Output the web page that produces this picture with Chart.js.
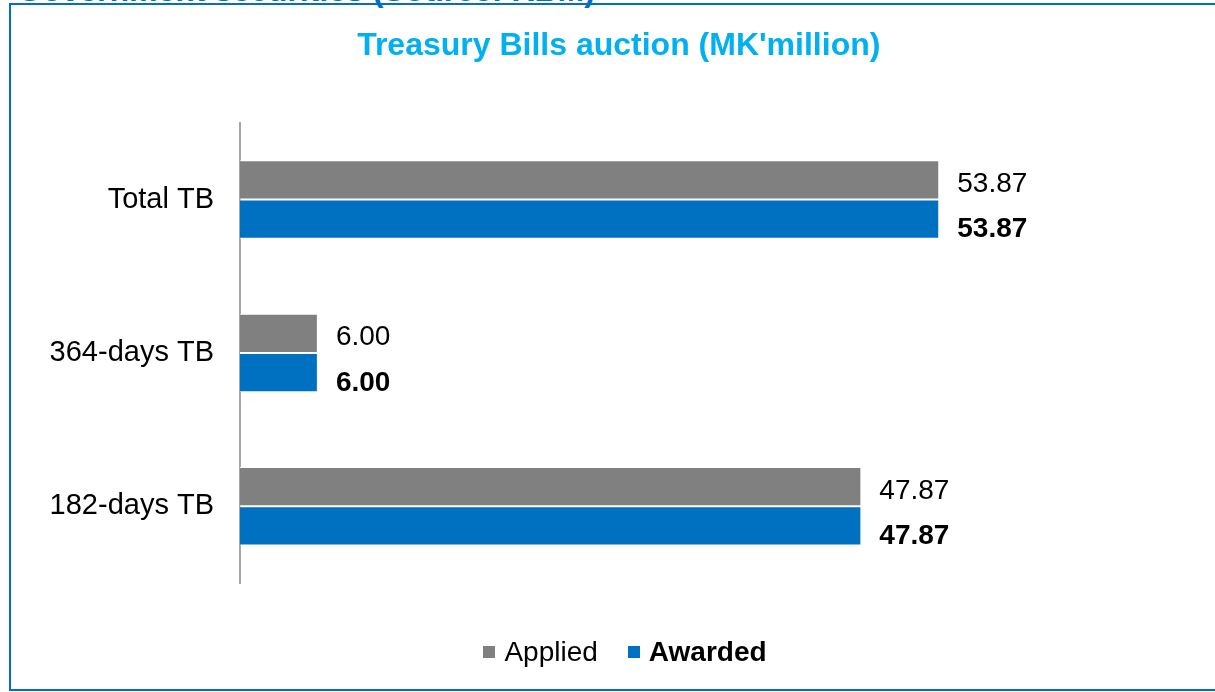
<!DOCTYPE html>
<html lang="en">
<head>
    <meta charset="UTF-8">
    <title>Treasury Bills auction</title>
    <script src="https://cdn.jsdelivr.net/npm/chart.js"></script>
    <style>
        body { margin: 0; background: #fff; overflow: hidden; width: 1215px; height: 692px; position: relative;
               font-family: 'Liberation Sans', Arial, sans-serif; }
        #heading { position: absolute; left: 17px; top: -26px; font-size: 32px; line-height: 32px;
                   font-weight: bold; color: #0070C0; white-space: nowrap; }
        #frame { position: absolute; left: 9px; top: 3px; width: 1222px; height: 688px;
                 box-sizing: border-box; border: 2px solid #0070C0; }
        #chart_tb { position: absolute; left: 0; top: 0; }
        #legend { position: absolute; left: 0; right: 0; top: 631px; display: flex; justify-content: center;
                  align-items: center; padding-left: 10px; font-size: 28px; line-height: 32px; color: #000; }
        #legend .item { display: flex; align-items: center; margin: 0 15px; }
        #legend .box { width: 12px; height: 12px; margin-right: 9px; }
    </style>
</head>
<body>
    <div id="heading">Government securities (Source: RBM)</div>
    <div id="frame">
        <canvas id="chart_tb" width="1218" height="684"></canvas>
        <div id="legend"></div>
    </div>

    <script>
        // auction data, MK'million
        const categories = ['Total TB', '364-days TB', '182-days TB'];
        const applied = [53.87, 6.00, 47.87];
        const awarded = [53.87, 6.00, 47.87];
        const seriesNames = ['Applied', 'Awarded'];
        const seriesColors = ['#808080', '#0070C0'];

        Chart.defaults.font.family = "'Liberation Sans', Arial, sans-serif";

        // value labels to the right of each bar, bold for awarded
        const barValues = {
            id: 'barValues',
            afterDatasetsDraw(chart) {
                const ctx = chart.ctx;
                ctx.save();
                ctx.fillStyle = '#000';
                ctx.textAlign = 'left';
                ctx.textBaseline = 'alphabetic';
                chart.data.datasets.forEach((ds, i) => {
                    ctx.font = (i === 1 ? 'bold ' : '') + "28px 'Liberation Sans', Arial, sans-serif";
                    chart.getDatasetMeta(i).data.forEach((bar, j) => {
                        const dy = i === 1 ? 18 : 12;
                        ctx.fillText(ds.data[j].toFixed(2), bar.x + 18, bar.y + dy);
                    });
                });
                ctx.restore();
            }
        };

        const ctx = document.getElementById('chart_tb').getContext('2d');
        const chart = new Chart(ctx, {
            type: 'bar',
            data: {
                labels: categories,
                datasets: [
                    {
                        label: seriesNames[0],
                        data: applied,
                        backgroundColor: seriesColors[0],
                        borderColor: '#fff',
                        borderWidth: 1,
                        barPercentage: 1,
                        categoryPercentage: 0.512
                    },
                    {
                        label: seriesNames[1],
                        data: awarded,
                        backgroundColor: seriesColors[1],
                        borderColor: '#fff',
                        borderWidth: 1,
                        barPercentage: 1,
                        categoryPercentage: 0.512
                    }
                ]
            },
            options: {
                indexAxis: 'y',
                responsive: false,
                animation: false,
                layout: { padding: { left: 0, right: 2.5, top: 0, bottom: 106 } },
                scales: {
                    x: { display: false, min: 0, max: 76 },
                    y: {
                        grid: { display: false, drawTicks: false },
                        border: { display: true, color: '#a6a6a6', width: 2 },
                        ticks: { color: '#000', padding: 26, font: { size: 29 } },
                        afterFit: (scale) => { scale.width = 229; }
                    }
                },
                plugins: {
                    legend: { display: false },
                    tooltip: { enabled: false },
                    title: {
                        display: true,
                        text: "Treasury Bills auction (MK'million)",
                        color: '#00B0F0',
                        font: { size: 32, weight: 'bold' },
                        padding: { top: 22, bottom: 57.5 }
                    }
                }
            },
            plugins: [barValues]
        });

        // legend below the chart, awarded label in bold
        const legend = document.getElementById('legend');
        chart.data.datasets.forEach((ds, i) => {
            const item = document.createElement('div');
            item.className = 'item';
            const box = document.createElement('span');
            box.className = 'box';
            box.style.background = ds.backgroundColor;
            const text = document.createElement('span');
            text.textContent = ds.label;
            if (i === 1) text.style.fontWeight = 'bold';
            item.appendChild(box);
            item.appendChild(text);
            legend.appendChild(item);
        });
    </script>
</body>
</html>
